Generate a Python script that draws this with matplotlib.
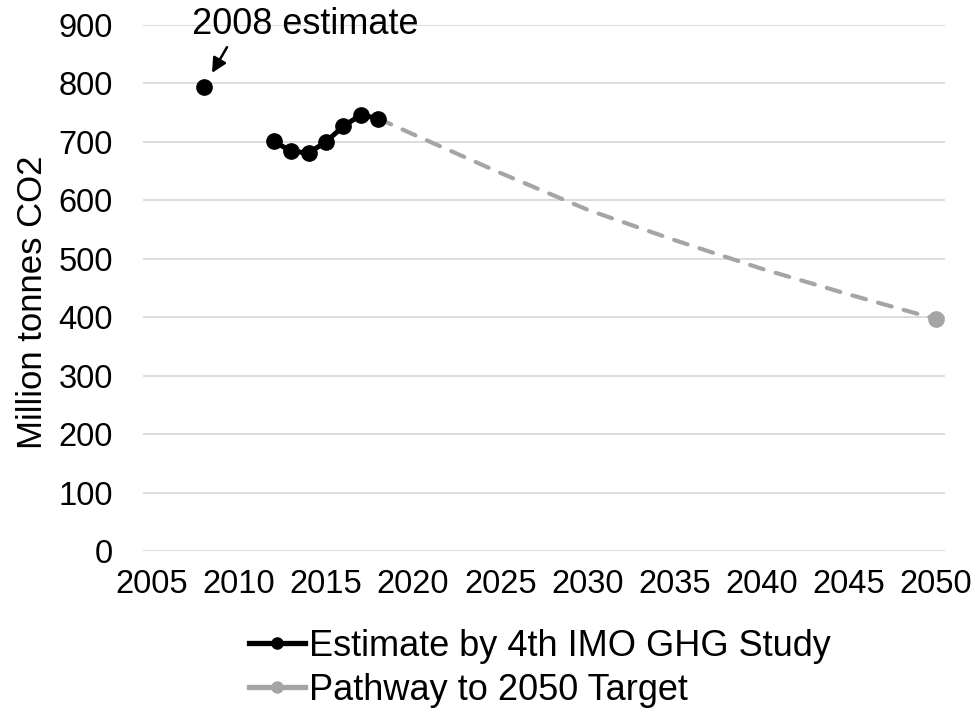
import matplotlib
matplotlib.use("Agg")
import matplotlib.pyplot as plt
import numpy as np

plt.rcParams['font.family'] = ['Liberation Sans', 'DejaVu Sans']

# shipping CO2 emissions, 4th IMO GHG Study (2009-2011 not estimated)
est_years = [2008, 2009, 2010, 2011, 2012, 2013, 2014, 2015, 2016, 2017, 2018]
est_values = [794, np.nan, np.nan, np.nan, 701, 684, 681, 700, 727, 746, 740]

# pathway from 2018 down to the 2050 target
path_years = [2018, 2020, 2025, 2030, 2035, 2040, 2045, 2050]
path_values = [740, 713, 647, 584, 532, 483, 439, 397]

x_ticks = list(range(2005, 2051, 5))
y_ticks = list(range(0, 901, 100))

black = '#000000'
grey = '#A5A5A5'
grid = '#D9D9D9'

fig = plt.figure(figsize=(9.8, 7.14), dpi=100)
ax = fig.add_axes([143 / 980, 1 - 551 / 714, 802 / 980, 526 / 714])

# pathway first so the black series sits on top at 2018
ax.plot(path_years, path_values, color=grey, lw=3, dashes=(3.4, 3.0),
        dash_capstyle='round', zorder=3)
ax.plot(path_years[-1:], path_values[-1:], 'o', color=grey, ms=11, zorder=3)
ax.plot(est_years, est_values, color=black, lw=3.6, marker='o', ms=11, zorder=4)

ax.text(2013.8, 900, '2008 estimate', ha='center', va='center', fontsize=26)
ax.annotate('', xy=(2008.46, 818), xytext=(2009.32, 862),
            arrowprops=dict(arrowstyle='-|>', color='black', lw=1.8,
                            mutation_scale=22, shrinkA=0, shrinkB=0))

ax.set_xlim(2004.5, 2050.52)
ax.set_ylim(0, 900)
ax.set_xticks(x_ticks)
ax.set_yticks(y_ticks)
ax.tick_params(length=0, labelsize=23.5)
ax.tick_params(axis='y', pad=21.6)
ax.tick_params(axis='x', pad=13)
ax.grid(axis='y', color=grid, lw=1.3)
ax.set_axisbelow(True)
for s in ax.spines.values():
    s.set_visible(False)

ax.set_ylabel('Million tonnes CO2', fontsize=25)
ax.yaxis.set_label_coords(-0.117, 0.473)

# legend handles with smaller markers
h1, = ax.plot([], [], color=black, lw=3.8, marker='o', ms=8)
h2, = ax.plot([], [], color=grey, lw=3.8, marker='o', ms=8)
fig.legend([h1, h2], ['Estimate by 4th IMO GHG Study', 'Pathway to 2050 Target'],
           loc='upper center', bbox_to_anchor=(540 / 980, 1 - 629 / 714),
           frameon=False, fontsize=26, handlelength=1.56, handletextpad=0.1,
           labelspacing=0.25, borderpad=0, borderaxespad=0)

fig.savefig('out.png', dpi=100)
